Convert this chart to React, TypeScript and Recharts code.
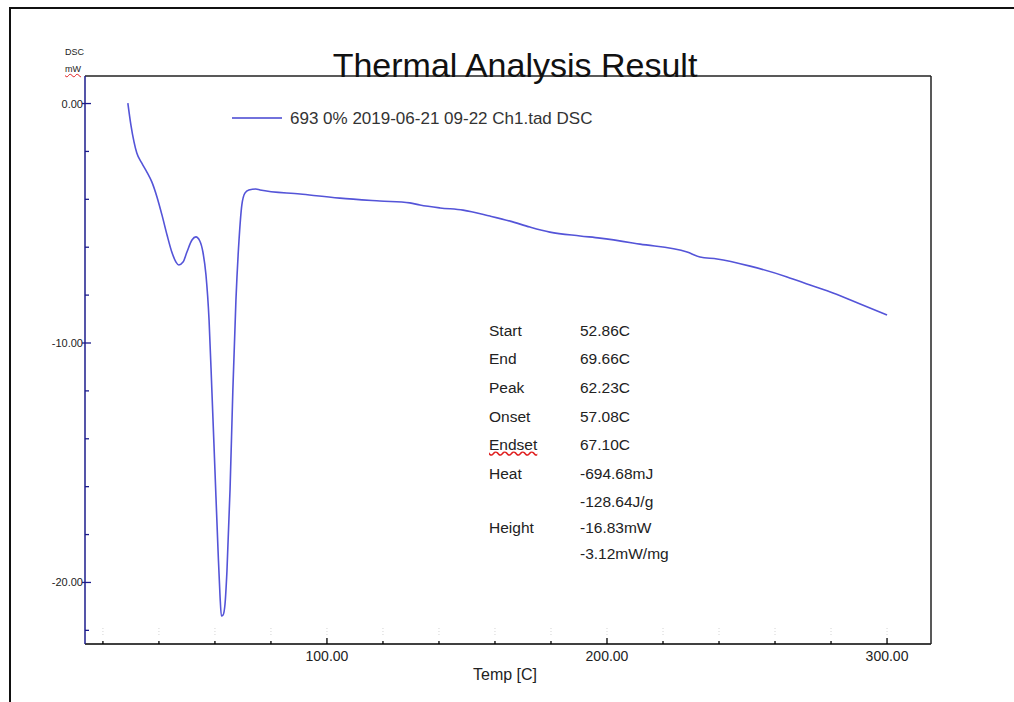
import { LineChart, Line, XAxis, YAxis } from "recharts";

// DSC curve: temperature [C] and heat flow [mW]
const temps = [
  28.9, 30.0, 31.1, 32.1, 33.9, 35.7, 37.5, 39.3, 41.1, 42.9, 44.6, 46.1, 47.1,
  48.6, 50.0, 51.8, 53.2, 54.6, 55.7, 56.8, 57.9, 58.9, 60.0, 61.1, 61.8, 62.3,
  62.9, 63.6, 64.3, 65.4, 66.4, 67.5, 68.6, 69.6, 70.7, 72.1, 74.6, 76.1, 90.4,
  104.6, 118.9, 129.6, 133.2, 140.4, 148.6, 158.2, 165.4, 172.5, 179.6, 190.4,
  197.5, 211.8, 228.6, 233.2, 239.3, 251.1, 264.3, 272.5, 280.7, 290.4, 300.0,
];
const dsc = [
  0.02, -0.9, -1.6, -2.07, -2.49, -2.86, -3.28, -3.9, -4.66, -5.49, -6.2, -6.62,
  -6.74, -6.62, -6.2, -5.7, -5.57, -5.74, -6.2, -7.16, -9.04, -11.96, -15.3,
  -18.64, -20.52, -21.4, -21.36, -20.9, -19.5, -16.1, -11.96, -8.2, -5.7, -4.24,
  -3.74, -3.61, -3.57, -3.61, -3.78, -3.95, -4.07, -4.15, -4.24, -4.36, -4.45,
  -4.7, -4.91, -5.16, -5.37, -5.53, -5.62, -5.87, -6.2, -6.41, -6.49, -6.79,
  -7.24, -7.58, -7.91, -8.37, -8.83,
];

const xTicks = [20, 40, 60, 80, 100, 120, 140, 160, 180, 200, 220, 240, 260, 280, 300];
const xMajorTicks = [100, 200, 300];
const yTicks = [0, -2, -4, -6, -8, -10, -12, -14, -16, -18, -20, -22];
const yMajorTicks = [0, -10, -20];

const peakLabels = ["Start", "End", "Peak", "Onset", "Endset", "Heat", "", "Height", ""];
const peakValues = [
  "52.86C", "69.66C", "62.23C", "57.08C", "67.10C",
  "-694.68mJ", "-128.64J/g", "-16.83mW", "-3.12mW/mg",
];

const data = temps.map((t, i) => ({ t, v: dsc[i] }));

const FONT = "'Liberation Sans', Arial, sans-serif";
const NAVY = "#1c1c8c";
const CURVE = "#5454d8";
const X_DOMAIN = [13.6, 315.7];
const Y_DOMAIN = [-22.57, 1.15];
const rowBaselines = [336, 364, 393, 422, 450, 479, 507, 533, 559];

const YTick = (props: any) => {
  const { x, y, payload } = props;
  const major = yMajorTicks.includes(payload.value);
  return (
    <g>
      <line x1={major ? x - 3 : x} x2={x + (major ? 6 : 4)} y1={y} y2={y} stroke={NAVY} strokeWidth={1.3} />
      {major && (
        <text x={x - 2} y={y} dy={4} textAnchor="end" fontSize={11} fill="#222" fontFamily={FONT}>
          {payload.value.toFixed(2)}
        </text>
      )}
    </g>
  );
};

const XTick = (props: any) => {
  const { x, y, payload } = props;
  const major = xMajorTicks.includes(payload.value);
  return (
    <g>
      <line x1={x} x2={x} y1={y - 9} y2={y - 17} stroke="#d4d4d4" strokeDasharray="1 2" />
      <line x1={x} x2={x} y1={y} y2={y - (major ? 6 : 3)} stroke="#000" strokeWidth={1.3} />
      {major && (
        <text x={x} y={y} dy={17} textAnchor="middle" fontSize={14} fill="#222" fontFamily={FONT}>
          {payload.value.toFixed(2)}
        </text>
      )}
    </g>
  );
};

// place HTML text by its baseline
const at = (left: number, baseline: number, fs: number) => ({
  position: "absolute" as const,
  left,
  top: baseline - 0.85 * fs,
  fontSize: fs,
  lineHeight: `${fs}px`,
  whiteSpace: "nowrap" as const,
});

export default function App() {
  return (
    <div
      style={{
        position: "absolute",
        left: 0,
        top: 0,
        width: 1014,
        height: 702,
        background: "#fff",
        overflow: "hidden",
        fontFamily: FONT,
        color: "#222",
      }}
    >
      {/* outer frame, cut off at right and bottom */}
      <div
        style={{
          position: "absolute",
          left: 9,
          top: 7,
          width: 1014,
          height: 702,
          borderLeft: "2px solid #111",
          borderTop: "2px solid #111",
        }}
      />

      <div style={{ position: "absolute", left: 0, top: 0 }}>
        <LineChart width={1014} height={702} data={data} margin={{ top: 75, left: 84, right: 82, bottom: 57 }}>
          <XAxis
            dataKey="t"
            type="number"
            domain={X_DOMAIN}
            allowDataOverflow
            ticks={xTicks}
            interval={0}
            tick={<XTick />}
            tickLine={false}
            tickSize={0}
            tickMargin={0}
            height={1}
            axisLine={{ stroke: "#000", strokeWidth: 1.5 }}
          />
          <XAxis
            xAxisId="top"
            orientation="top"
            type="number"
            domain={X_DOMAIN}
            tick={false}
            tickLine={false}
            height={1}
            axisLine={{ stroke: "#222", strokeWidth: 1.5 }}
          />
          <YAxis
            type="number"
            domain={Y_DOMAIN}
            allowDataOverflow
            ticks={yTicks}
            interval={0}
            tick={<YTick />}
            tickLine={false}
            tickSize={0}
            tickMargin={0}
            width={1}
            axisLine={{ stroke: NAVY, strokeWidth: 1.5 }}
          />
          <YAxis
            yAxisId="right"
            orientation="right"
            type="number"
            domain={Y_DOMAIN}
            tick={false}
            tickLine={false}
            width={1}
            axisLine={{ stroke: "#222", strokeWidth: 1.5 }}
          />
          <Line
            dataKey="v"
            type="monotone"
            stroke={CURVE}
            strokeWidth={1.6}
            dot={false}
            isAnimationActive={false}
          />
        </LineChart>
      </div>

      {/* title */}
      <div style={{ ...at(515, 77, 34), transform: "translateX(-50%)", color: "#111" }}>
        Thermal Analysis Result
      </div>

      {/* y axis caption */}
      <div style={{ ...at(65, 56, 9) }}>DSC</div>
      <div style={{ ...at(65, 73, 9), textDecoration: "underline wavy #e02020" }}>mW</div>

      {/* legend */}
      <div style={{ position: "absolute", left: 232, top: 117, width: 50, height: 2, background: "#7272dc" }} />
      <div style={{ ...at(290, 124, 17), color: "#333" }}>693 0% 2019-06-21 09-22 Ch1.tad DSC</div>

      {/* peak analysis */}
      {peakLabels.map((label, i) =>
        label ? (
          <div
            key={"l" + i}
            style={{
              ...at(489, rowBaselines[i], 15.5),
              textDecoration: label === "Endset" ? "underline wavy #e02020" : undefined,
            }}
          >
            {label}
          </div>
        ) : null
      )}
      {peakValues.map((value, i) => (
        <div key={"v" + i} style={{ ...at(580, rowBaselines[i], 15.5) }}>
          {value}
        </div>
      ))}

      {/* x axis caption */}
      <div style={{ ...at(505, 681, 16), transform: "translateX(-50%)" }}>Temp [C]</div>
    </div>
  );
}
